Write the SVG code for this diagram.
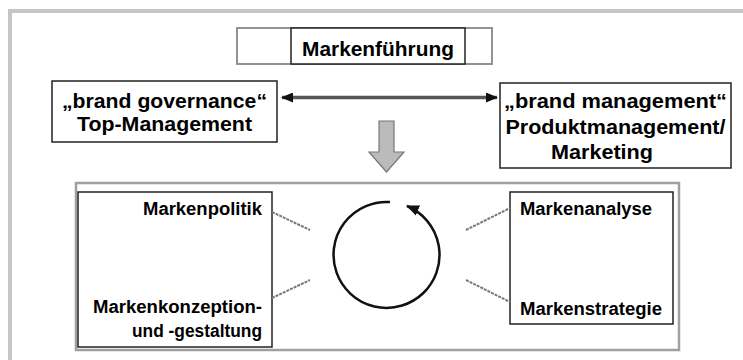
<svg xmlns="http://www.w3.org/2000/svg" width="743" height="360" viewBox="0 0 743 360">
<defs>
<style>
.t{font-family:"Liberation Sans",Arial,sans-serif;font-weight:bold;fill:#000}
.box{fill:#fff;stroke:#222;stroke-width:1.5}
.conn{stroke:#777;stroke-width:2;stroke-dasharray:3 1;fill:none}
</style>
<marker id="ah" viewBox="0 0 12 10" refX="11" refY="5" markerWidth="12" markerHeight="10" markerUnits="userSpaceOnUse" orient="auto-start-reverse">
<path d="M0,0 L12,5 L0,10 Z" fill="#111"/>
</marker>
<marker id="ch" viewBox="0 0 12 10" refX="11" refY="5" markerWidth="13" markerHeight="11" markerUnits="userSpaceOnUse" orient="auto">
<path d="M0,0 L12,5 L0,10 Z" fill="#111"/>
</marker>
</defs>
<rect width="743" height="360" fill="#fff"/>
<rect x="10" y="11" width="800" height="400" fill="none" stroke="#c6c6c6" stroke-width="4"/>

<g id="fuehrung">
<rect x="237" y="28" width="255" height="36" fill="#fff" stroke="#888" stroke-width="1.8"/>
<rect x="291" y="28" width="174" height="36" class="box"/>
<text class="t" x="378" y="56" font-size="21" text-anchor="middle" textLength="152" lengthAdjust="spacingAndGlyphs">Markenführung</text>
</g>

<g id="governance">
<rect x="52" y="81" width="225" height="61" class="box"/>
<text class="t" x="164.5" y="108" font-size="20" text-anchor="middle" textLength="205" lengthAdjust="spacingAndGlyphs">„brand governance“</text>
<text class="t" x="164.5" y="131" font-size="20" text-anchor="middle" textLength="175" lengthAdjust="spacingAndGlyphs">Top-Management</text>
</g>

<g id="management">
<rect x="500" y="83" width="231" height="85" class="box"/>
<text class="t" x="615.5" y="108" font-size="20" text-anchor="middle" textLength="223" lengthAdjust="spacingAndGlyphs">„brand management“</text>
<text class="t" x="615.5" y="134" font-size="20" text-anchor="middle" textLength="220" lengthAdjust="spacingAndGlyphs">Produktmanagement/</text>
<text class="t" x="602" y="159" font-size="20" text-anchor="middle" textLength="102" lengthAdjust="spacingAndGlyphs">Marketing</text>
</g>

<g id="downarrow">
<polygon points="379,121 394,121 394,152 404,152 386.5,172 369,152 379,152" fill="#bbb" stroke="#777" stroke-width="1.2"/>
</g>

<g id="prozess">
<rect x="76" y="183" width="603" height="167" fill="#fff" stroke="#a0a0a0" stroke-width="2.5"/>
</g>

<g id="links">
<rect x="78" y="192" width="194" height="155" class="box"/>
<text class="t" x="262" y="215" font-size="18" text-anchor="end" textLength="119" lengthAdjust="spacingAndGlyphs">Markenpolitik</text>
<text class="t" x="262" y="313" font-size="18" text-anchor="end" textLength="169" lengthAdjust="spacingAndGlyphs">Markenkonzeption-</text>
<text class="t" x="262" y="337" font-size="18" text-anchor="end" textLength="130" lengthAdjust="spacingAndGlyphs">und -gestaltung</text>
</g>

<g id="rechts">
<rect x="510" y="192" width="163" height="132" class="box"/>
<text class="t" x="520" y="215" font-size="18" textLength="132" lengthAdjust="spacingAndGlyphs">Markenanalyse</text>
<text class="t" x="520" y="315" font-size="18" textLength="142" lengthAdjust="spacingAndGlyphs">Markenstrategie</text>
</g>

<g id="kreis">
<path d="M390,202 A53,53 0 1 0 407,206" fill="none" stroke="#111" stroke-width="2.5" marker-end="url(#ch)"/>
</g>

<g id="connectors">
<line x1="282" y1="97.5" x2="497" y2="97.5" stroke="#555" stroke-width="3.5" marker-start="url(#ah)" marker-end="url(#ah)"/>
<line class="conn" x1="272" y1="212" x2="310" y2="230"/>
<line class="conn" x1="272" y1="298" x2="310" y2="280"/>
<line class="conn" x1="466" y1="230" x2="510" y2="208"/>
<line class="conn" x1="466" y1="280" x2="510" y2="302"/>
</g>
</svg>
